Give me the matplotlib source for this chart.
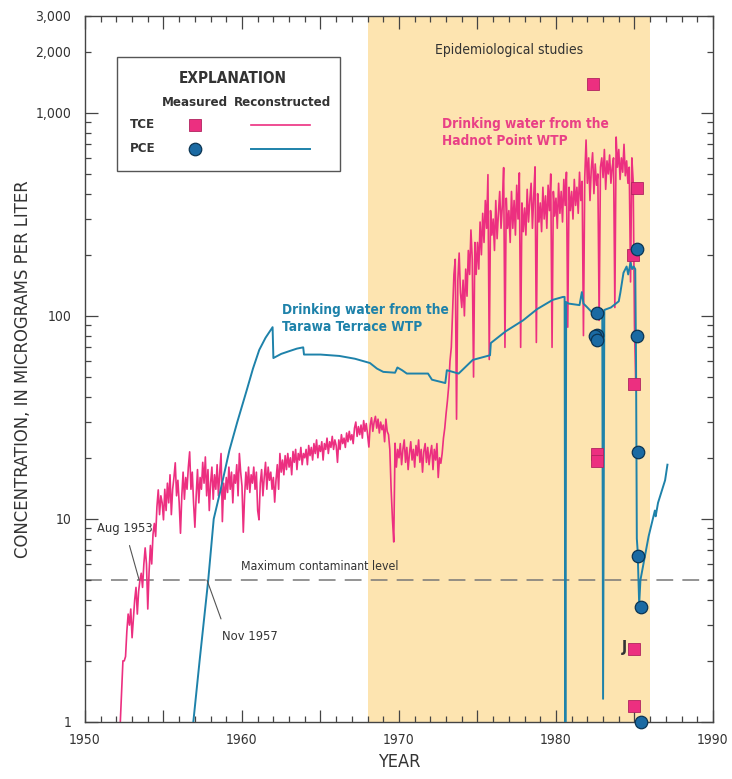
import numpy as np
import matplotlib
matplotlib.use('Agg')
import matplotlib.pyplot as plt
from matplotlib import font_manager
from matplotlib.ticker import FixedLocator, FuncFormatter

# pick a narrow face if one is installed
names = {(f.name, f.stretch) for f in font_manager.fontManager.ttflist}
fams = {n for n, s in names}
narrow = False
if 'Liberation Sans Narrow' in fams:
    plt.rcParams['font.family'] = ['Liberation Sans Narrow', 'DejaVu Sans']
    narrow = True
elif any(n == 'DejaVu Sans' and s in ('condensed', 'semi-condensed', 500, 'semicondensed') for n, s in names):
    plt.rcParams['font.family'] = ['DejaVu Sans']
    plt.rcParams['font.stretch'] = 'condensed'
    narrow = True
elif 'Roboto Condensed' in fams:
    plt.rcParams['font.family'] = ['Roboto Condensed', 'DejaVu Sans']
    narrow = True
else:
    plt.rcParams['font.family'] = ['Roboto', 'DejaVu Sans']
k = 1.0 if narrow else 0.9

# reconstructed TCE, Hadnot Point WTP, monthly from Apr 1952
tce_start = 1952 + 3 / 12.0
tce_recon = [
    1.0, 1.4, 2.0, 2.0, 2.1, 2.8, 3.4, 3.0, 3.6,
    2.6, 3.2, 4.0, 4.6, 3.4, 4.4, 5.0, 5.4, 4.6, 6.0, 7.2, 6.0,
    3.6, 5.5, 7.4, 6.0, 8.4, 9.5, 8.2, 11.5, 13.9, 10.5, 13.0, 12.0,
    9.9, 14.0, 11.0, 15.0, 12.0, 16.5, 10.5, 14.0, 16.0, 18.9, 13.0, 15.5,
    12.0, 8.5, 13.0, 17.0, 12.5, 16.0, 14.0, 18.0, 21.4, 14.0, 17.0, 12.0,
    9.1, 13.0, 17.5, 12.0, 16.0, 14.0, 19.0, 15.0, 20.2, 13.0, 17.5, 11.0,
    15.0, 18.0, 12.5, 16.5, 14.0, 18.5, 13.0, 17.0, 21.0, 9.7, 15.0, 12.5,
    16.0, 13.5, 18.0, 14.0, 17.0, 12.0, 16.5, 15.0, 18.5, 13.0, 21.0, 17.0,
    14.5, 8.6, 13.0, 17.0, 14.0, 18.0, 13.5, 16.5, 15.0, 18.0, 14.0, 17.0,
    11.0, 9.9, 15.0, 17.5, 13.0, 16.0, 19.0, 14.0, 18.0, 15.5, 17.0, 14.0,
    16.0, 12.1, 15.5, 18.5, 14.0, 21.0, 17.0, 19.5, 16.5, 20.5, 17.5, 21.0,
    18.0, 20.0, 16.5, 21.5, 19.0, 22.0, 17.5, 21.0, 19.5, 22.5, 18.5, 21.0,
    20.0, 22.0, 18.5, 23.0, 20.5, 22.5, 19.5, 23.5, 21.0, 24.5, 20.0, 23.0,
    21.5, 24.0, 19.5, 23.5, 22.0, 25.0, 21.0, 24.0, 22.5, 25.5, 22.0, 24.5,
    23.0, 19.0, 24.5, 22.0, 26.0, 23.5, 25.0, 22.5, 26.5, 24.0, 27.0, 24.5,
    26.0, 23.5, 28.0, 30.0, 25.5, 28.5, 26.0, 29.0, 25.0, 30.5, 27.0, 29.5,
    26.0, 22.6, 29.0, 31.5, 27.0, 30.0, 32.0, 28.0, 31.0, 26.5, 30.0, 27.5,
    29.0, 24.0, 31.0, 27.0, 26.0, 22.0, 14.0, 10.0, 7.7, 23.6, 18.0, 22.0,
    20.0, 23.5, 18.5, 22.0, 24.5, 19.0, 22.5, 17.5, 21.0, 24.0, 19.5, 22.0,
    18.0, 23.0, 20.5, 24.5, 19.0, 22.0, 17.0, 21.5, 23.5, 19.0, 22.5, 18.5,
    21.0, 23.0, 17.5, 22.0, 19.5, 23.5, 16.0, 20.0, 18.8, 21.0, 25.0, 28.0,
    33.0, 38.0, 45.0, 60.0, 70.0, 107, 160, 190, 31.0, 150, 204, 130,
    110, 150, 100, 170, 125, 210, 160, 265, 190, 50, 230, 160,
    230, 170, 290, 200, 320, 230, 370, 270, 496, 61, 330, 250,
    300, 210, 370, 240, 320, 410, 270, 350, 537, 70, 380, 270,
    330, 230, 410, 270, 370, 250, 440, 300, 506, 70, 360, 260,
    340, 250, 420, 290, 370, 450, 270, 390, 542, 74, 400, 290,
    360, 260, 430, 300, 390, 270, 440, 330, 500, 70, 410, 310,
    380, 270, 450, 320, 410, 290, 470, 350, 510, 88, 430, 330,
    410, 300, 470, 350, 430, 320, 510, 370, 460, 80, 480, 735,
    450, 600, 370, 530, 636, 400, 560, 440, 500, 95, 540, 600,
    480, 660, 420, 580, 500, 620, 450, 540, 600, 110, 760, 540,
    660, 470, 600, 510, 700, 490, 580, 450, 540, 147, 600, 460,
    90, 45,
]

# reconstructed PCE, Tarawa Terrace WTP
pce_years = [1956.9, 1957.3, 1957.85, 1958.2, 1958.6, 1959.2, 1959.7, 1960.3, 1960.7,
             1961.1, 1961.5, 1961.95, 1962.0, 1962.5, 1963.0, 1963.5, 1963.9, 1963.95,
             1965.0, 1966.2, 1967.2, 1968.15, 1968.6, 1969.0, 1969.75, 1969.9, 1970.2,
             1970.5, 1971.85, 1972.1, 1972.95, 1973.05, 1973.8, 1974.7, 1975.8, 1975.85,
             1976.8, 1977.9, 1978.8, 1979.8, 1980.45, 1980.55, 1980.6, 1980.65, 1980.8,
             1981.5, 1981.65, 1981.75, 1982.0, 1982.35, 1982.6, 1982.95, 1983.0, 1983.08,
             1983.5, 1984.0, 1984.1, 1984.3, 1984.5, 1984.6, 1984.75, 1984.85, 1984.95,
             1985.05, 1985.1, 1985.15, 1985.2, 1985.3, 1985.38, 1985.9, 1986.3, 1986.35,
             1986.5, 1986.95, 1987.1]
pce_recon = [1.0, 2.0, 5.0, 10.0, 13.5, 21.8, 30, 43, 55,
             68, 78, 88, 62, 65, 67, 69, 70, 64.5,
             64.5, 63.5, 61.5, 58.6, 55, 53, 52.5, 55.7, 54,
             52, 52, 48.5, 46.7, 54, 52, 60.7, 64, 73.5,
             84, 95, 108, 120, 124, 124, 0.5, 117, 115,
             113, 131, 115, 110, 103, 100, 104, 1.3, 107,
             110, 118, 130, 163, 175, 160, 183, 170, 175,
             170, 60, 8.0, 7.0, 3.8, 5.0, 8.2, 11.0, 10.3,
             12.0, 15.5, 18.5]

# measured values
tce_meas_years = [1982.36, 1982.6, 1982.6, 1984.9, 1985.16, 1984.95, 1984.95, 1984.95]
tce_meas = [1390, 21.0, 19.3, 199, 427, 46, 2.3, 1.2]
pce_meas_years = [1985.16, 1982.6, 1982.6, 1982.5, 1982.6, 1985.16, 1985.2, 1985.2, 1985.4, 1985.4]
pce_meas = [214, 103.5, 80.8, 79.7, 76, 79.7, 21.4, 6.6, 3.68, 1.0]

mcl = 5.0
epi_start, epi_end = 1968, 1986

PINK = '#ec2f80'
BLUE = '#1e82aa'
DOT = '#1a6aa3'
GREY = '#444444'
TXT = '#333333'

fig = plt.figure(figsize=(7.32, 7.79), dpi=100)
ax = fig.add_axes([0.1161, 0.0732, 0.8579, 0.9063])

ax.axvspan(epi_start, epi_end, color='#fde4b0', lw=0, zorder=0)
ax.axhline(mcl, color='#777777', lw=1.1, dashes=(11, 6), zorder=1)

tce_x = tce_start + np.arange(len(tce_recon)) / 12.0
ax.plot(tce_x, tce_recon, color=PINK, lw=1.2, zorder=2)
ax.plot(pce_years, pce_recon, color=BLUE, lw=1.4, zorder=3)

ax.plot(tce_meas_years, tce_meas, 's', ms=8, color=PINK, mec='#b0245f', mew=0.6,
        zorder=4, clip_on=False)
ax.plot(pce_meas_years, pce_meas, 'o', ms=9, color=DOT, mec='#0b3553', mew=0.9,
        zorder=5, clip_on=False)

ax.set_yscale('log')
ax.set_xlim(1950, 1990)
ax.set_ylim(1, 3000)

ax.xaxis.set_major_locator(FixedLocator(np.arange(1950, 1991, 5)))
ax.xaxis.set_minor_locator(FixedLocator(np.arange(1950, 1991, 1)))
ax.xaxis.set_major_formatter(FuncFormatter(lambda v, p: '%d' % v if int(v) % 10 == 0 else ''))

ax.yaxis.set_major_locator(FixedLocator([1, 10, 100, 1000]))
ax.yaxis.set_major_formatter(FuncFormatter(lambda v, p: '{:,.0f}'.format(v)))
minors = [m * d for d in (1, 10, 100) for m in range(2, 10)] + [2000, 3000]
ax.yaxis.set_minor_locator(FixedLocator(minors))
ax.yaxis.set_minor_formatter(FuncFormatter(lambda v, p: '{:,.0f}'.format(v) if v >= 2000 else ''))

ax.tick_params(which='both', direction='in', top=True, right=True, color=GREY,
               labelcolor=TXT, labelsize=10 * k, width=0.9)
ax.tick_params(which='major', length=9)
ax.tick_params(which='minor', length=4.5)
ax.tick_params(axis='x', which='both', pad=8)
ax.tick_params(axis='y', which='both', pad=10)
for s in ax.spines.values():
    s.set_color(GREY)
    s.set_linewidth(1.0)

ax.set_ylabel('CONCENTRATION, IN MICROGRAMS PER LITER', fontsize=13.2 * k, color=TXT)
ax.yaxis.set_label_coords(-0.084, 0.5)
ax.set_xlabel('YEAR', fontsize=13 * k, color=TXT, labelpad=4)

# annotations
ax.text(1977, 2050, 'Epidemiological studies', ha='center', va='center', fontsize=10 * k, color=TXT)
ax.text(1972.74, 800, 'Drinking water from the\nHadnot Point WTP', ha='left', va='center',
        fontsize=9.8 * k, color='#e94086', fontweight='bold', linespacing=1.3)
ax.text(1962.55, 97, 'Drinking water from the\nTarawa Terrace WTP', ha='left', va='center',
        fontsize=9.8 * k, color=BLUE, fontweight='bold', linespacing=1.3)
ax.text(1959.94, 5.8, 'Maximum contaminant level', ha='left', va='center', fontsize=8.8 * k, color=TXT)
ax.annotate('Aug 1953', xy=(1953.45, 5.0), xytext=(1950.75, 9.0), ha='left', va='center',
            fontsize=9.3 * k, color=TXT,
            arrowprops=dict(arrowstyle='-', color='#555555', lw=0.8, shrinkA=6, shrinkB=0))
ax.annotate('Nov 1957', xy=(1957.77, 5.0), xytext=(1958.73, 2.65), ha='left', va='center',
            fontsize=9.3 * k, color=TXT,
            arrowprops=dict(arrowstyle='-', color='#555555', lw=0.8, shrinkA=6, shrinkB=0,
                            relpos=(0.05, 1.0)))
ax.text(1984.55, 2.34, 'J', ha='right', va='center', fontsize=11 * k, color=TXT, fontweight='bold')

# explanation box
T = ax.transAxes
ax.add_patch(plt.Rectangle((0.051, 0.780), 0.355, 0.162, transform=T, fill=True,
                           facecolor='white', edgecolor='#555555', lw=1.0, zorder=6))
ax.text(0.236, 0.911, 'EXPLANATION', transform=T, ha='center', va='center', fontsize=11 * k,
        fontweight='bold', color=TXT, zorder=7)
ax.text(0.175, 0.878, 'Measured', transform=T, ha='center', va='center', fontsize=9.5 * k,
        fontweight='bold', color=TXT, zorder=7)
ax.text(0.315, 0.878, 'Reconstructed', transform=T, ha='center', va='center', fontsize=9.5 * k,
        fontweight='bold', color=TXT, zorder=7)
ax.text(0.072, 0.846, 'TCE', transform=T, ha='left', va='center', fontsize=9.5 * k,
        fontweight='bold', color=TXT, zorder=7)
ax.text(0.072, 0.812, 'PCE', transform=T, ha='left', va='center', fontsize=9.5 * k,
        fontweight='bold', color=TXT, zorder=7)
ax.plot([0.175], [0.846], 's', ms=8, color=PINK, mec='#b0245f', mew=0.6, transform=T, zorder=7)
ax.plot([0.175], [0.812], 'o', ms=9, color=DOT, mec='#0b3553', mew=0.9, transform=T, zorder=7)
ax.plot([0.264, 0.358], [0.846, 0.846], color=PINK, lw=1.2, transform=T, zorder=7)
ax.plot([0.264, 0.358], [0.812, 0.812], color=BLUE, lw=1.4, transform=T, zorder=7)

fig.savefig('out.png', dpi=100, facecolor='white')
